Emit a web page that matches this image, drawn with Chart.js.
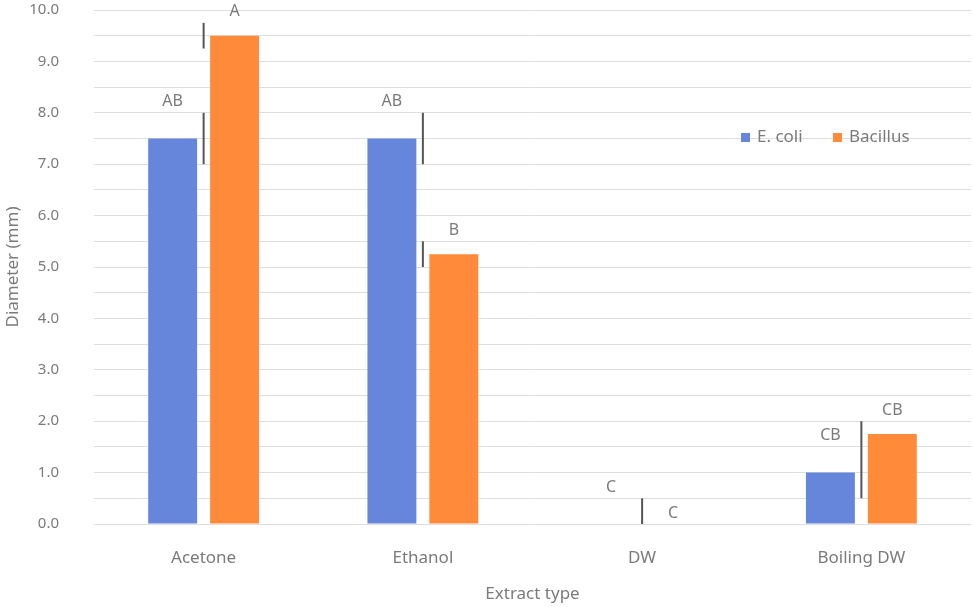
<!DOCTYPE html>
<html>
<head>
<meta charset="utf-8">
<script src="https://cdn.jsdelivr.net/npm/chart.js@4"></script>
<style>
  html, body { margin: 0; padding: 0; background: #fff; }
  #wrap { width: 973px; height: 607px; }
</style>
</head>
<body>
<div id="wrap"><canvas id="chart" width="973" height="607"></canvas></div>
<script>
// Inhibition zone diameters per extract type.
const categories = ["Acetone", "Ethanol", "DW", "Boiling DW"];
const ecoliValues = [7.5, 7.5, 0, 1.0];
const bacillusValues = [9.5, 5.25, 0, 1.75];
const ecoliErrors = [0.5, 0.5, 0.5, 0.5];
const bacillusErrors = [0.25, 0.25, 0, 0.25];
const ecoliLetters = ["AB", "AB", "C", "CB"];
const bacillusLetters = ["A", "B", "C", "CB"];

const FONT = "'Noto Sans', sans-serif";
const TEXT = "#7b7b7b";
const BLUE = "#6686dc";
const ORANGE = "#ff8a3a";

// Excel-style error bars: one line per category, drawn between the two bars.
const errorBarPlugin = {
  id: "errorBars",
  afterDatasetsDraw(chart) {
    const { ctx, scales: { x, y } } = chart;
    ctx.save();
    ctx.strokeStyle = "#555";
    ctx.lineWidth = 2;
    categories.forEach((_, i) => {
      const cx = x.getPixelForValue(i);
      [[ecoliValues, ecoliErrors], [bacillusValues, bacillusErrors]].forEach(([vals, errs]) => {
        if (!errs[i]) return;
        const lo = Math.max(0, vals[i] - errs[i]);
        const hi = vals[i] + errs[i];
        ctx.beginPath();
        ctx.moveTo(cx, y.getPixelForValue(lo));
        ctx.lineTo(cx, y.getPixelForValue(hi));
        ctx.stroke();
      });
    });
    ctx.restore();
  },
};

// Significance letters above each bar.
const letterPlugin = {
  id: "letters",
  afterDatasetsDraw(chart) {
    const { ctx, scales: { y } } = chart;
    ctx.save();
    ctx.font = "16px " + FONT;
    ctx.fillStyle = TEXT;
    ctx.textAlign = "center";
    ctx.textBaseline = "middle";
    [[ecoliValues, ecoliErrors, ecoliLetters], [bacillusValues, bacillusErrors, bacillusLetters]]
      .forEach(([vals, errs, letters], d) => {
        const meta = chart.getDatasetMeta(d);
        meta.data.forEach((bar, i) => {
          const top = y.getPixelForValue(vals[i] + errs[i]);
          ctx.fillText(letters[i], bar.x, top - 11);
        });
      });
    ctx.restore();
  },
};

// Legend sits inside the plot, top right.
const insideLegendPlugin = {
  id: "insideLegend",
  afterDraw(chart) {
    const { ctx } = chart;
    const yMid = 137;
    let xPos = 741;
    ctx.save();
    ctx.font = "17px " + FONT;
    ctx.textBaseline = "middle";
    chart.data.datasets.forEach((ds) => {
      ctx.fillStyle = ds.backgroundColor;
      ctx.fillRect(xPos, yMid - 4, 9, 9);
      ctx.fillStyle = TEXT;
      ctx.fillText(ds.label, xPos + 16, yMid);
      xPos += 92;
    });
    ctx.restore();
  },
};

new Chart(document.getElementById("chart"), {
  type: "bar",
  data: {
    labels: categories,
    datasets: [
      { label: "E. coli", data: ecoliValues, backgroundColor: BLUE },
      { label: "Bacillus", data: bacillusValues, backgroundColor: ORANGE },
    ],
  },
  options: {
    responsive: false,
    animation: false,
    categoryPercentage: 0.565,
    barPercentage: 0.79,
    layout: { padding: { top: 10, right: 2, left: 0, bottom: 0 } },
    plugins: { legend: { display: false }, tooltip: { enabled: false } },
    scales: {
      x: {
        grid: { display: false, drawTicks: false },
        border: { display: false },
        ticks: { color: TEXT, font: { family: FONT, size: 17 }, padding: 24 },
        title: { display: true, text: "Extract type", color: TEXT, font: { family: FONT, size: 17 }, padding: { top: 0, bottom: 3 } },
        afterFit(scale) { scale.height = 83; scale.paddingTop = 0; scale.paddingBottom = 0; },
      },
      y: {
        min: 0,
        max: 10,
        grid: { color: "#dedede", drawTicks: false },
        border: { display: false },
        ticks: {
          stepSize: 0.5,
          color: TEXT,
          font: { family: FONT, size: 15 },
          padding: 35,
          callback: (v) => (Number.isInteger(v) ? v.toFixed(1) : ""),
        },
        title: { display: true, text: "Diameter (mm)", color: TEXT, font: { family: FONT, size: 17 }, padding: { top: 3, bottom: 0 } },
        afterFit(scale) { scale.width = 94; scale.paddingTop = 0; scale.paddingBottom = 0; },
      },
    },
  },
  plugins: [errorBarPlugin, letterPlugin, insideLegendPlugin],
});
</script>
</body>
</html>
